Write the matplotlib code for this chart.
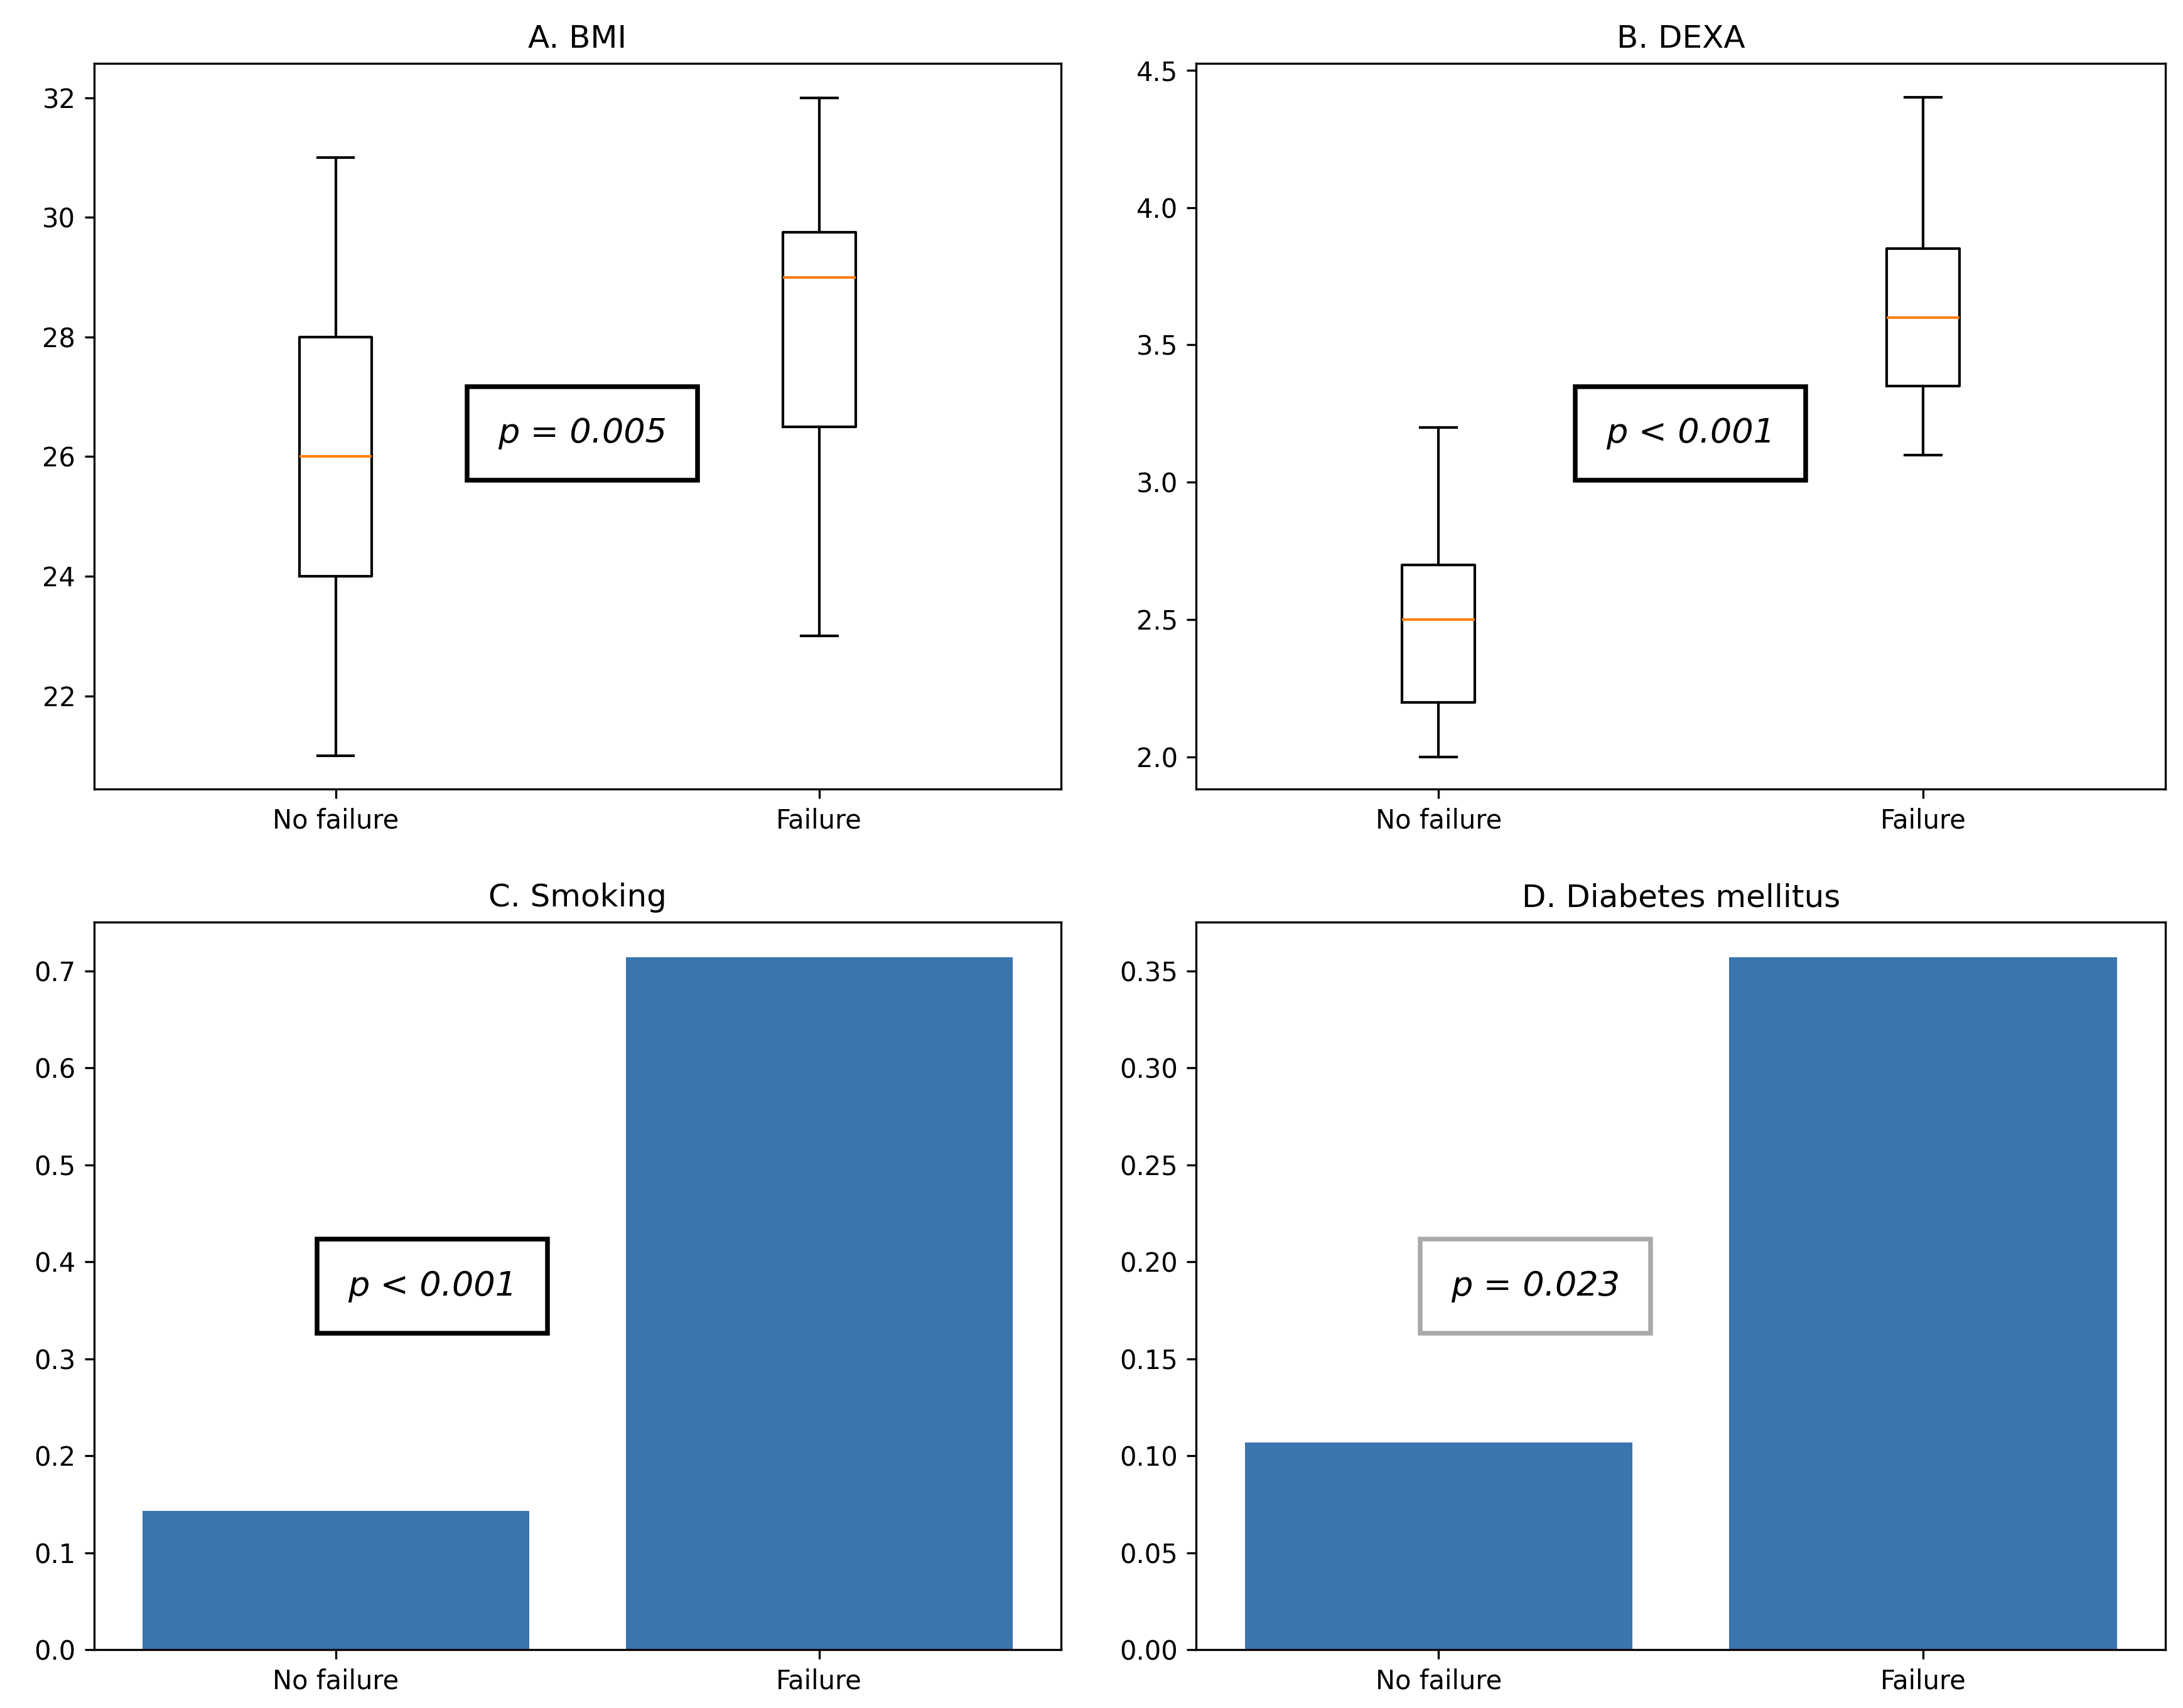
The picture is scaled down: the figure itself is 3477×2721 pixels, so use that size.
import matplotlib
matplotlib.use("Agg")
import matplotlib.pyplot as plt

groups = ["No failure", "Failure"]
bmi_stats = [(21, 24, 26, 28, 31), (23, 26.5, 29, 29.75, 32)]
dexa_stats = [(2.0, 2.2, 2.5, 2.7, 3.2), (3.1, 3.35, 3.6, 3.85, 4.4)]
smoking = [0.143, 0.714]
diabetes = [0.107, 0.357]
pvals = ["p = 0.005", "p < 0.001", "p < 0.001", "p = 0.023"]

plt.rcParams['font.size'] = 10
fig = plt.figure(figsize=(11.59, 9.07), dpi=300)
axA = fig.add_axes([0.043, 0.538, 0.443, 0.425])
axB = fig.add_axes([0.548, 0.538, 0.444, 0.425])
axC = fig.add_axes([0.043, 0.034, 0.443, 0.426])
axD = fig.add_axes([0.548, 0.034, 0.444, 0.426])

def box(ax, stats, title, ylim):
    bx = [dict(whislo=s[0], q1=s[1], med=s[2], q3=s[3], whishi=s[4], fliers=[], label=g)
          for s, g in zip(stats, groups)]
    ax.bxp(bx, positions=[1, 2], widths=0.15, showfliers=False,
           medianprops=dict(color='#ff7f0e'))
    ax.set_xlim(0.5, 2.5)
    ax.set_ylim(*ylim)
    ax.set_title(title, fontsize=12)

box(axA, bmi_stats, "A. BMI", (20.44, 32.58))
box(axB, dexa_stats, "B. DEXA", (1.884, 4.525))
axB.set_yticks([2.0, 2.5, 3.0, 3.5, 4.0, 4.5])

for ax, vals, title, top in [(axC, smoking, "C. Smoking", 0.75), (axD, diabetes, "D. Diabetes mellitus", 0.375)]:
    ax.bar(groups, vals, width=0.8, color='#3b75af')
    ax.set_xlim(-0.5, 1.5)
    ax.set_ylim(0, top)
    ax.set_title(title, fontsize=12)
axD.set_yticks([0, 0.05, 0.1, 0.15, 0.2, 0.25, 0.3, 0.35])
axD.set_yticklabels(["0.00", "0.05", "0.10", "0.15", "0.20", "0.25", "0.30", "0.35"])

pos = [(axA, 0.505, 0.49, 'black'), (axB, 0.51, 0.49, 'black'),
       (axC, 0.35, 0.50, 'black'), (axD, 0.35, 0.50, '#aaaaaa')]
for (ax, x, y, ec), p in zip(pos, pvals):
    ax.text(x, y, p, transform=ax.transAxes, ha='center', va='center',
            fontsize=13, fontstyle='italic', family='Liberation Sans Narrow',
            bbox=dict(boxstyle='square,pad=0.9', fc='white', ec=ec, lw=1.8))

fig.savefig("out.png", dpi=300)
